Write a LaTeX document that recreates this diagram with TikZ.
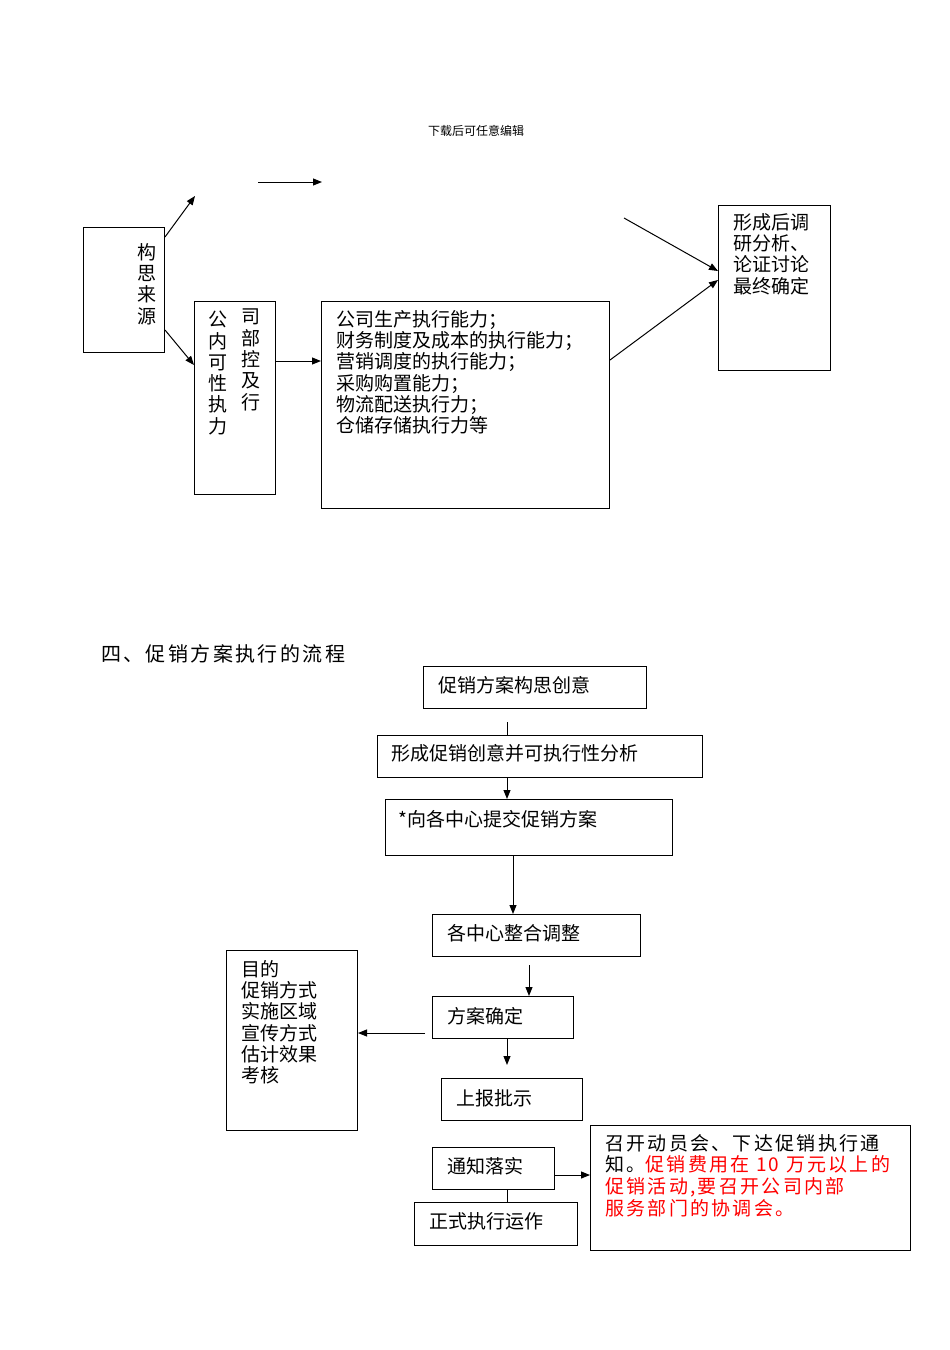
\documentclass[tikz,border=0pt]{standalone}
\usepackage{fontspec}
\newfontfamily\cjk{Noto Sans CJK SC}
\newfontfamily\cjkw[LetterSpace=12]{Noto Sans CJK SC}
\usetikzlibrary{arrows.meta}
\begin{document}
\begin{tikzpicture}[x=1pt,y=-1pt,
  box/.style={draw,line width=1pt,inner sep=0pt,anchor=north west},
  txt/.style={anchor=north west,inner sep=0pt,yshift=-3pt,font=\cjk\fontsize{19}{21.3}\selectfont,align=left},
  arr/.style={line width=1pt,-{Triangle[length=9pt,width=7pt]}},
  ln/.style={line width=1pt}]
\useasboundingbox (0,0) rectangle (950,1350);
\node[anchor=center,font=\cjk\fontsize{12}{13}\selectfont] (hdr) at (476,131) {下载后可任意编辑};
% top part
\node[box,minimum width=81pt,minimum height=125pt] (src) at (83,227) {};
\node[txt,text width=20pt] (srct) at (137,240) {构\\思\\来\\源};
\node[box,minimum width=81pt,minimum height=193pt] (ctl) at (194,301) {};
\node[txt,text width=20pt] (ctl1) at (208,308) {公\\内\\可\\性\\执\\力};
\node[txt,text width=20pt] (ctl2) at (241,306) {司\\部\\控\\及\\行};
\node[box,minimum width=288pt,minimum height=207pt] (cap) at (321,301) {};
\node[txt] (capt) at (336,307) {公司生产执行能力；\\财务制度及成本的执行能力；\\营销调度的执行能力；\\采购购置能力；\\物流配送执行力；\\仓储存储执行力等};
\node[box,minimum width=112pt,minimum height=165pt] (fin) at (718,205) {};
\node[txt] (fint) at (733,210) {形成后调\\研分析、\\论证讨论\\最终确定};
\coordinate (u1) at (195,196);
\coordinate (u2) at (258,182);
\coordinate (u3) at (322,182);
\coordinate (u4) at (624,218);
\draw[arr] (src.north east |- 0,237) -- (u1);
\draw[arr] (src.east |- 0,330) -- (ctl.west |- 0,365);
\draw[arr] (u2) -- (u3);
\draw[arr] (ctl.east |- 0,361) -- (cap.west |- 0,361);
\draw[arr] (u4) -- (fin.west |- 0,271);
\draw[arr] (cap.east |- 0,360) -- (fin.west |- 0,280);
% section title
\node[txt,font=\cjkw\fontsize{20}{22}\selectfont] (title) at (101,641) {四、促销方案执行的流程};
% flow
\node[box,minimum width=223pt,minimum height=42pt] (b1) at (423,666) {};
\node[txt] at (438,673) {促销方案构思创意};
\node[box,minimum width=325pt,minimum height=42pt] (b2) at (377,735) {};
\node[txt] at (391,741) {形成促销创意并可执行性分析};
\node[box,minimum width=287pt,minimum height=56pt] (b3) at (385,799) {};
\node[txt] at (398,807) {*向各中心提交促销方案};
\node[box,minimum width=208pt,minimum height=42pt] (b4) at (432,914) {};
\node[txt] at (447,921) {各中心整合调整};
\node[box,minimum width=141pt,minimum height=42pt] (b5) at (432,996) {};
\node[txt] at (447,1004) {方案确定};
\node[box,minimum width=141pt,minimum height=42pt] (b6) at (441,1078) {};
\node[txt] at (456,1086) {上报批示};
\node[box,minimum width=131pt,minimum height=180pt] (lst) at (226,950) {};
\node[txt] at (241,957) {目的\\促销方式\\实施区域\\宣传方式\\估计效果\\考核};
\node[box,minimum width=122pt,minimum height=42pt] (b7) at (432,1147) {};
\node[txt] at (447,1154) {通知落实};
\node[box,minimum width=163pt,minimum height=43pt] (b8) at (414,1202) {};
\node[txt] at (429,1209) {正式执行运作};
\node[box,minimum width=320pt,minimum height=125pt] (red) at (590,1125) {};
\node[txt,font=\cjkw\fontsize{19}{21.8}\selectfont] at (605,1131) {召开动员会、下达促销执行通\\知。\textcolor{red}{促销费用在 10 万元以上的}\\\textcolor{red}{促销活动,要召开公司内部}\\\textcolor{red}{服务部门的协调会。}};
\coordinate (c1) at (507,722);
\draw[ln] (c1) -- (b2.north -| c1);
\draw[arr] (b2.south -| 507,0) -- (b3.north -| 507,0);
\draw[arr] (b3.south -| 513,0) -- (b4.north -| 513,0);
\coordinate (c2) at (529,965);
\draw[arr] (c2) -- (b5.north -| c2);
\coordinate (c3) at (425,1033);
\draw[arr] (c3) -- (lst.east |- c3);
\coordinate (c4) at (507,1065);
\draw[arr] (b5.south -| c4) -- (c4);
\draw[ln] (b7.south -| 507,0) -- (b8.north -| 507,0);
\draw[arr] (b7.east |- 0,1175) -- (red.west |- 0,1175);
\end{tikzpicture}
\end{document}
